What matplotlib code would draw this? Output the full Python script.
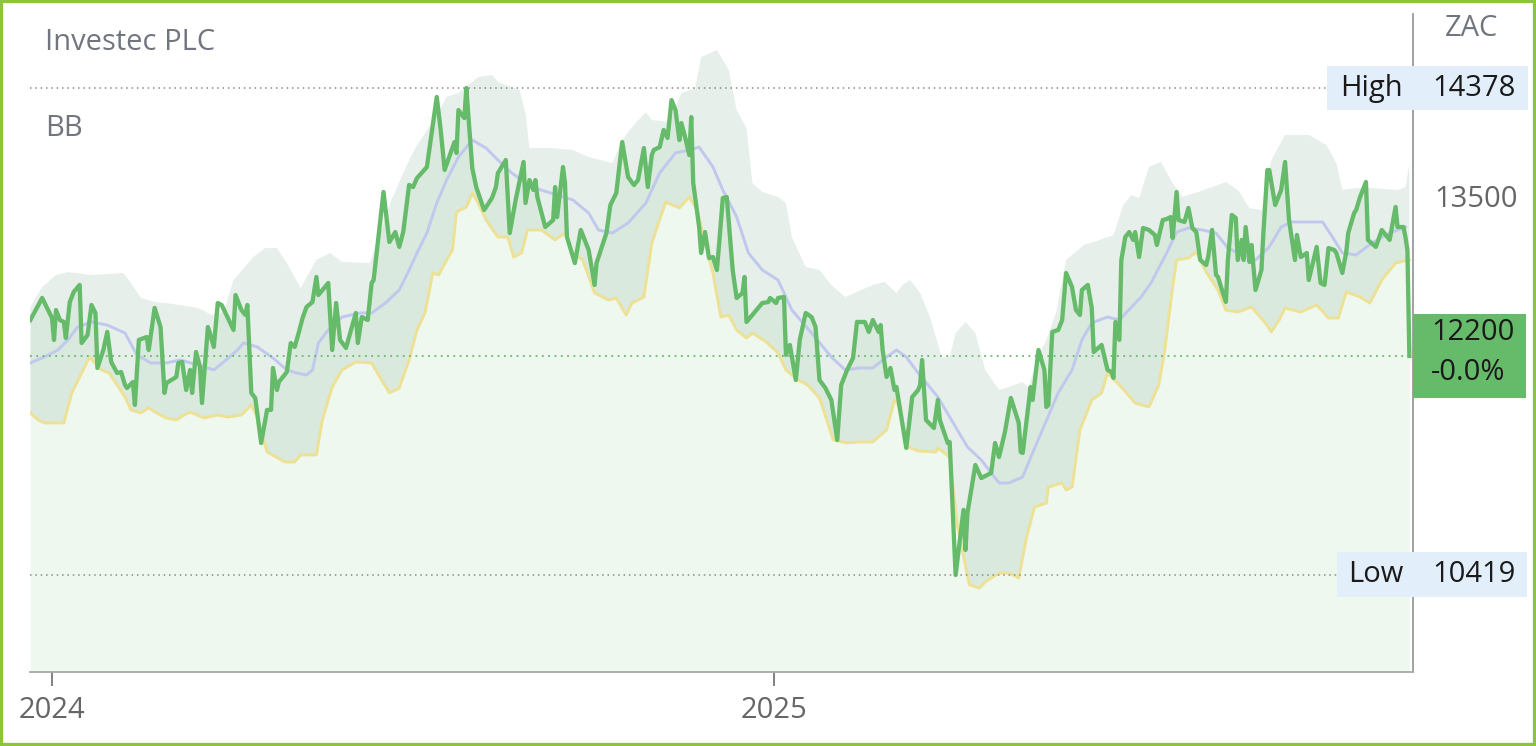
import numpy as np
import pandas as pd
import matplotlib
matplotlib.use("Agg")
from matplotlib import pyplot as plt
from matplotlib.patches import Rectangle
import matplotlib.transforms as mtransforms

plt.rcParams['font.family'] = ['Open Sans', 'DejaVu Sans']

# price (ZAC)
price_dates = [
    '2023-12-21', '2023-12-27', '2023-12-30', '2024-01-01', '2024-01-02', '2024-01-03', '2024-01-05', '2024-01-07',
    '2024-01-08', '2024-01-10', '2024-01-12', '2024-01-15', '2024-01-16', '2024-01-19', '2024-01-21', '2024-01-23',
    '2024-01-24', '2024-01-27', '2024-01-29', '2024-01-31', '2024-02-03', '2024-02-05', '2024-02-07', '2024-02-08',
    '2024-02-11', '2024-02-12', '2024-02-14', '2024-02-18', '2024-02-19', '2024-02-22', '2024-02-25', '2024-02-27',
    '2024-02-28', '2024-03-04', '2024-03-05', '2024-03-07', '2024-03-09', '2024-03-11', '2024-03-12', '2024-03-14',
    '2024-03-16', '2024-03-17', '2024-03-20', '2024-03-21', '2024-03-23', '2024-03-25', '2024-03-27', '2024-04-02',
    '2024-04-03', '2024-04-06', '2024-04-08', '2024-04-09', '2024-04-11', '2024-04-13', '2024-04-16', '2024-04-19',
    '2024-04-21', '2024-04-22', '2024-04-24', '2024-04-25', '2024-04-29', '2024-05-01', '2024-05-03', '2024-05-05',
    '2024-05-07', '2024-05-09', '2024-05-12', '2024-05-14', '2024-05-15', '2024-05-20', '2024-05-22', '2024-05-24',
    '2024-05-26', '2024-05-29', '2024-06-03', '2024-06-04', '2024-06-06', '2024-06-09', '2024-06-11', '2024-06-12',
    '2024-06-17', '2024-06-20', '2024-06-23', '2024-06-25', '2024-06-27', '2024-06-30', '2024-07-02', '2024-07-04',
    '2024-07-09', '2024-07-14', '2024-07-16', '2024-07-18', '2024-07-21', '2024-07-23', '2024-07-24', '2024-07-25',
    '2024-07-28', '2024-07-29', '2024-08-01', '2024-08-03', '2024-08-07', '2024-08-11', '2024-08-13', '2024-08-14',
    '2024-08-18', '2024-08-20', '2024-08-23', '2024-08-27', '2024-08-28', '2024-08-30', '2024-09-01', '2024-09-02',
    '2024-09-03', '2024-09-07', '2024-09-11', '2024-09-12', '2024-09-13', '2024-09-16', '2024-09-17', '2024-09-18',
    '2024-09-22', '2024-09-25', '2024-09-29', '2024-10-02', '2024-10-03', '2024-10-08', '2024-10-10', '2024-10-13',
    '2024-10-16', '2024-10-19', '2024-10-22', '2024-10-24', '2024-10-27', '2024-10-29', '2024-10-31', '2024-11-01',
    '2024-11-04', '2024-11-06', '2024-11-08', '2024-11-10', '2024-11-12', '2024-11-14', '2024-11-15', '2024-11-17',
    '2024-11-19', '2024-11-20', '2024-11-21', '2024-11-24', '2024-11-25', '2024-11-27', '2024-11-29', '2024-12-01',
    '2024-12-03', '2024-12-04', '2024-12-06', '2024-12-08', '2024-12-11', '2024-12-13', '2024-12-16', '2024-12-17',
    '2024-12-18', '2024-12-23', '2024-12-26', '2024-12-29', '2024-12-30', '2025-01-02', '2025-01-03', '2025-01-06',
    '2025-01-07', '2025-01-09', '2025-01-12', '2025-01-14', '2025-01-17', '2025-01-20', '2025-01-22', '2025-01-24',
    '2025-01-27', '2025-01-30', '2025-02-02', '2025-02-04', '2025-02-07', '2025-02-10', '2025-02-12', '2025-02-16',
    '2025-02-18', '2025-02-20', '2025-02-23', '2025-02-24', '2025-02-25', '2025-02-27', '2025-03-01', '2025-03-03',
    '2025-03-04', '2025-03-09', '2025-03-12', '2025-03-15', '2025-03-16', '2025-03-17', '2025-03-19', '2025-03-23',
    '2025-03-25', '2025-03-26', '2025-03-30', '2025-03-31', '2025-04-03', '2025-04-07', '2025-04-08', '2025-04-09',
    '2025-04-13', '2025-04-16', '2025-04-21', '2025-04-23', '2025-04-25', '2025-04-28', '2025-05-01', '2025-05-05',
    '2025-05-06', '2025-05-07', '2025-05-11', '2025-05-12', '2025-05-15', '2025-05-18', '2025-05-19', '2025-05-20',
    '2025-05-22', '2025-05-25', '2025-05-27', '2025-05-29', '2025-06-01', '2025-06-03', '2025-06-05', '2025-06-06',
    '2025-06-09', '2025-06-11', '2025-06-12', '2025-06-16', '2025-06-19', '2025-06-21', '2025-06-22', '2025-06-23',
    '2025-06-25', '2025-06-26', '2025-06-28', '2025-06-30', '2025-07-02', '2025-07-03', '2025-07-05', '2025-07-07',
    '2025-07-10', '2025-07-13', '2025-07-14', '2025-07-17', '2025-07-19', '2025-07-21', '2025-07-22', '2025-07-24',
    '2025-07-25', '2025-07-28', '2025-07-30', '2025-08-01', '2025-08-03', '2025-08-05', '2025-08-08', '2025-08-09',
    '2025-08-11', '2025-08-13', '2025-08-14', '2025-08-16', '2025-08-18', '2025-08-19', '2025-08-21', '2025-08-23',
    '2025-08-24', '2025-08-26', '2025-08-27', '2025-08-28', '2025-08-30', '2025-08-31', '2025-09-02', '2025-09-05',
    '2025-09-06', '2025-09-08', '2025-09-09', '2025-09-10', '2025-09-12', '2025-09-15', '2025-09-17', '2025-09-19',
    '2025-09-22', '2025-09-23', '2025-09-25', '2025-09-28', '2025-09-29', '2025-10-03', '2025-10-05', '2025-10-07',
    '2025-10-09', '2025-10-12', '2025-10-13', '2025-10-16', '2025-10-18', '2025-10-19', '2025-10-22', '2025-10-23',
    '2025-10-25', '2025-10-28', '2025-10-29', '2025-11-02', '2025-11-05', '2025-11-07', '2025-11-09', '2025-11-12',
    '2025-11-13', '2025-11-16', '2025-11-17', '2025-11-18', '2025-11-19',
]
price = [
    12492, 12671, 12573, 12508, 12330, 12573, 12492, 12476,
    12346, 12638, 12720, 12777, 12305, 12370, 12614, 12549,
    12102, 12248, 12395, 12151, 12061, 12069, 11964, 11939,
    11988, 11801, 12330, 12354, 12248, 12590, 12435, 11899,
    11980, 12029, 12142, 12151, 11923, 12086, 11899, 12232,
    12110, 11817, 12435, 12386, 12273, 12630, 12614, 12411,
    12695, 12573, 12533, 12614, 11899, 11858, 11492, 11761,
    11761, 12102, 11923, 11988, 12069, 12305, 12273, 12386,
    12508, 12598, 12638, 12842, 12695, 12793, 12248, 12630,
    12330, 12265, 12549, 12305, 12516, 12492, 12793, 12817,
    13533, 13126, 13207, 13086, 13207, 13590, 13573, 13646,
    13736, 14305, 14037, 13712, 13850, 13939, 13850, 14199,
    14134, 14378, 13728, 13573, 13386, 13484, 13573, 13687,
    13793, 13199, 13468, 13777, 13443, 13630, 13549, 13630,
    13492, 13248, 13305, 13573, 13329, 13736, 13606, 13167,
    12955, 13224, 13061, 12777, 12955, 13199, 13427, 13525,
    13939, 13654, 13589, 13630, 13890, 13573, 13833, 13874,
    13898, 14037, 13972, 14280, 14199, 13955, 14093, 13972,
    13833, 14142, 13606, 13248, 13037, 13207, 12996, 13004,
    12899, 13086, 13484, 13492, 12899, 12671, 12712, 12842,
    12476, 12573, 12630, 12638, 12671, 12630, 12671, 12679,
    12208, 12289, 12004, 12330, 12549, 12516, 12435, 12004,
    11939, 11842, 11516, 11964, 12086, 12183, 12476, 12476,
    12395, 12492, 12395, 12451, 12248, 12029, 12102, 11923,
    11948, 11452, 11866, 11923, 11964, 12167, 11679, 11614,
    11842, 11679, 11492, 11500, 10419, 10948, 10622, 10923,
    11313, 11207, 11248, 11492, 11378, 11582, 11858, 11655,
    11419, 11411, 11947, 11842, 12248, 12086, 11785, 11801,
    12395, 12411, 12492, 12874, 12760, 12573, 12533, 12736,
    12777, 12590, 12232, 12289, 12086, 12069, 12021, 12476,
    12330, 12980, 13167, 13207, 13143, 13207, 13004, 13240,
    13224, 13183, 13102, 13305, 13313, 13329, 13159, 13533,
    13305, 13289, 13403, 13240, 13207, 12980, 12939, 13004,
    13224, 12858, 12842, 12736, 12639, 12980, 13346, 13321,
    12980, 13143, 12980, 13248, 12964, 13102, 12736, 12899,
    13199, 13711, 13711, 13614, 13427, 13549, 13777, 13305,
    12980, 13183, 13004, 13037, 12817, 13086, 12793, 12777,
    13077, 13061, 13037, 12874, 13045, 13199, 13362, 13386,
    13492, 13614, 13143, 13086, 13224, 13183, 13143, 13411,
    13248, 13248, 13167, 13061, 12200,
]

# Bollinger bands
upper_dates = [
    '2023-12-21', '2023-12-27', '2024-01-03', '2024-01-09', '2024-01-21', '2024-02-06', '2024-02-10', '2024-02-15',
    '2024-02-22', '2024-02-28', '2024-03-15', '2024-03-22', '2024-03-28', '2024-04-02', '2024-04-12', '2024-04-18',
    '2024-04-24', '2024-04-29', '2024-05-06', '2024-05-14', '2024-05-21', '2024-05-27', '2024-06-10', '2024-06-16',
    '2024-06-21', '2024-06-30', '2024-07-04', '2024-07-12', '2024-07-19', '2024-07-25', '2024-07-30', '2024-08-04',
    '2024-08-11', '2024-08-14', '2024-08-25', '2024-08-28', '2024-08-30', '2024-09-10', '2024-09-21', '2024-09-29',
    '2024-10-11', '2024-10-16', '2024-10-21', '2024-10-28', '2024-10-31', '2024-11-09', '2024-11-15', '2024-11-22',
    '2024-11-25', '2024-12-03', '2024-12-09', '2024-12-13', '2024-12-18', '2024-12-21', '2024-12-26', '2025-01-03',
    '2025-01-07', '2025-01-10', '2025-01-17', '2025-01-24', '2025-01-30', '2025-02-06', '2025-02-12', '2025-02-20',
    '2025-02-26', '2025-03-04', '2025-03-07', '2025-03-11', '2025-03-16', '2025-03-21', '2025-03-27', '2025-03-31',
    '2025-04-03', '2025-04-08', '2025-04-13', '2025-04-18', '2025-04-25', '2025-04-30', '2025-05-07', '2025-05-10',
    '2025-05-14', '2025-05-19', '2025-05-24', '2025-05-29', '2025-06-07', '2025-06-15', '2025-06-22', '2025-06-27',
    '2025-07-01', '2025-07-05', '2025-07-10', '2025-07-16', '2025-07-22', '2025-07-27', '2025-08-04', '2025-08-11',
    '2025-08-18', '2025-08-24', '2025-08-30', '2025-09-05', '2025-09-10', '2025-09-17', '2025-09-29', '2025-10-08',
    '2025-10-13', '2025-10-16', '2025-10-23', '2025-10-31', '2025-11-13', '2025-11-17', '2025-11-19',
]
upper = [
    12598, 12760, 12858, 12882, 12858, 12874, 12793, 12671,
    12638, 12630, 12590, 12533, 12557, 12817, 13004, 13077,
    13077, 12955, 12752, 12980, 13037, 12964, 12955, 13224,
    13468, 13793, 13915, 14102, 14305, 14337, 14402, 14467,
    14484, 14427, 14362, 14175, 13890, 13890, 13874, 13817,
    13768, 13955, 14061, 14183, 14118, 14102, 14337, 14378,
    14630, 14687, 14524, 14199, 14053, 13606, 13533, 13492,
    13443, 13167, 12923, 12899, 12777, 12679, 12720, 12777,
    12801, 12712, 12777, 12817, 12712, 12516, 12191, 12191,
    12386, 12476, 12386, 12086, 11923, 11948, 11988, 11939,
    12167, 12330, 12557, 12980, 13102, 13143, 13183, 13427,
    13508, 13484, 13736, 13777, 13606, 13492, 13533, 13573,
    13614, 13549, 13403, 13386, 13793, 13996, 13996, 13915,
    13768, 13549, 13565, 13565, 13549, 13570, 13760,
]
middle_dates = [
    '2023-12-21', '2023-12-28', '2024-01-04', '2024-01-09', '2024-01-14', '2024-01-21', '2024-01-29', '2024-02-07',
    '2024-02-13', '2024-02-20', '2024-02-28', '2024-03-06', '2024-03-15', '2024-03-23', '2024-03-28', '2024-04-04',
    '2024-04-07', '2024-04-14', '2024-04-22', '2024-04-29', '2024-05-04', '2024-05-09', '2024-05-12', '2024-05-15',
    '2024-05-20', '2024-05-27', '2024-06-05', '2024-06-11', '2024-06-18', '2024-06-25', '2024-06-30', '2024-07-04',
    '2024-07-09', '2024-07-14', '2024-07-19', '2024-07-25', '2024-08-01', '2024-08-08', '2024-08-14', '2024-08-21',
    '2024-08-31', '2024-09-10', '2024-09-21', '2024-09-29', '2024-10-04', '2024-10-11', '2024-10-19', '2024-10-28',
    '2024-11-04', '2024-11-12', '2024-11-19', '2024-11-24', '2024-12-01', '2024-12-06', '2024-12-13', '2024-12-19',
    '2024-12-26', '2025-01-03', '2025-01-10', '2025-01-20', '2025-01-30', '2025-02-06', '2025-02-13', '2025-02-20',
    '2025-02-27', '2025-03-04', '2025-03-09', '2025-03-15', '2025-03-25', '2025-04-03', '2025-04-09', '2025-04-16',
    '2025-04-25', '2025-04-30', '2025-05-07', '2025-05-12', '2025-05-17', '2025-05-25', '2025-06-01', '2025-06-06',
    '2025-06-11', '2025-06-19', '2025-06-25', '2025-07-06', '2025-07-11', '2025-07-19', '2025-07-24', '2025-07-30',
    '2025-08-06', '2025-08-13', '2025-08-19', '2025-08-24', '2025-09-02', '2025-09-09', '2025-09-15', '2025-09-20',
    '2025-10-06', '2025-10-11', '2025-10-16', '2025-10-23', '2025-10-31', '2025-11-09', '2025-11-17',
]
middle = [
    12143, 12191, 12248, 12330, 12435, 12476, 12451, 12386,
    12208, 12143, 12143, 12167, 12126, 12086, 12151, 12248,
    12305, 12273, 12183, 12086, 12061, 12045, 12086, 12305,
    12411, 12516, 12549, 12549, 12630, 12736, 12898, 13037,
    13199, 13443, 13630, 13817, 13955, 13890, 13793, 13687,
    13573, 13524, 13468, 13362, 13224, 13199, 13281, 13443,
    13687, 13850, 13874, 13898, 13736, 13549, 13330, 13037,
    12899, 12817, 12573, 12386, 12191, 12086, 12102, 12102,
    12191, 12248, 12191, 12061, 11866, 11622, 11460, 11354,
    11167, 11167, 11216, 11411, 11598, 11899, 12086, 12330,
    12468, 12516, 12492, 12679, 12793, 13037, 13207, 13240,
    13224, 13199, 13077, 13037, 12980, 13086, 13248, 13289,
    13289, 13167, 13037, 13021, 13118, 13199, 13248,
]
lower_dates = [
    '2023-12-21', '2023-12-25', '2023-12-28', '2024-01-07', '2024-01-11', '2024-01-15', '2024-01-20', '2024-01-26',
    '2024-01-30', '2024-02-07', '2024-02-10', '2024-02-15', '2024-02-19', '2024-02-23', '2024-02-28', '2024-03-04',
    '2024-03-08', '2024-03-11', '2024-03-18', '2024-03-25', '2024-03-30', '2024-04-06', '2024-04-11', '2024-04-14',
    '2024-04-19', '2024-04-28', '2024-05-03', '2024-05-06', '2024-05-14', '2024-05-17', '2024-05-22', '2024-05-27',
    '2024-06-03', '2024-06-11', '2024-06-16', '2024-06-20', '2024-06-25', '2024-06-30', '2024-07-04', '2024-07-08',
    '2024-07-12', '2024-07-15', '2024-07-19', '2024-07-22', '2024-07-24', '2024-07-29', '2024-08-01', '2024-08-04',
    '2024-08-08', '2024-08-14', '2024-08-19', '2024-08-22', '2024-08-26', '2024-08-29', '2024-09-05', '2024-09-12',
    '2024-09-17', '2024-09-21', '2024-09-26', '2024-10-02', '2024-10-09', '2024-10-13', '2024-10-18', '2024-10-21',
    '2024-10-27', '2024-10-31', '2024-11-07', '2024-11-14', '2024-11-19', '2024-11-23', '2024-11-27', '2024-12-01',
    '2024-12-05', '2024-12-09', '2024-12-13', '2024-12-18', '2024-12-21', '2024-12-28', '2025-01-03', '2025-01-07',
    '2025-01-13', '2025-01-18', '2025-01-24', '2025-01-31', '2025-02-07', '2025-02-13', '2025-02-20', '2025-02-27',
    '2025-03-03', '2025-03-05', '2025-03-10', '2025-03-15', '2025-03-24', '2025-03-25', '2025-03-31', '2025-04-04',
    '2025-04-10', '2025-04-15', '2025-04-18', '2025-04-25', '2025-04-30', '2025-05-05', '2025-05-09', '2025-05-13',
    '2025-05-19', '2025-05-20', '2025-05-27', '2025-05-29', '2025-06-01', '2025-06-05', '2025-06-11', '2025-06-16',
    '2025-06-19', '2025-06-26', '2025-07-03', '2025-07-10', '2025-07-15', '2025-07-18', '2025-07-22', '2025-07-24',
    '2025-07-30', '2025-08-03', '2025-08-08', '2025-08-14', '2025-08-18', '2025-08-24', '2025-08-31', '2025-09-07',
    '2025-09-10', '2025-09-14', '2025-09-17', '2025-09-25', '2025-10-03', '2025-10-09', '2025-10-14', '2025-10-18',
    '2025-10-25', '2025-10-30', '2025-11-05', '2025-11-12', '2025-11-19',
]
lower = [
    11736, 11679, 11655, 11655, 11899, 12029, 12191, 12086,
    12061, 11866, 11761, 11736, 11777, 11736, 11695, 11679,
    11720, 11744, 11695, 11720, 11703, 11720, 11801, 11703,
    11419, 11338, 11338, 11395, 11395, 11679, 11947, 12086,
    12151, 12142, 12004, 11899, 11939, 12167, 12411, 12549,
    12874, 12858, 12980, 13061, 13370, 13411, 13524, 13443,
    13305, 13167, 13167, 13004, 13037, 13224, 13224, 13143,
    13199, 13037, 12980, 12712, 12655, 12671, 12533, 12630,
    12679, 13118, 13451, 13403, 13492, 13386, 13118, 12874,
    12516, 12533, 12411, 12346, 12386, 12313, 12224, 12086,
    12004, 11964, 11858, 11517, 11492, 11500, 11500, 11598,
    11842, 11801, 11460, 11427, 11419, 11452, 11378, 10809,
    10338, 10313, 10362, 10435, 10435, 10395, 10728, 10972,
    11004, 11134, 11167, 11110, 11134, 11598, 11842, 11899,
    12061, 11947, 11817, 11785, 11964, 12248, 12760, 12980,
    12996, 13045, 12882, 12736, 12573, 12557, 12598, 12468,
    12395, 12492, 12590, 12557, 12614, 12508, 12508, 12720,
    12679, 12630, 12817, 12955, 12980,
]

title = 'Investec PLC'
indicator = 'BB'
currency = 'ZAC'
high_value = 14378
low_value = 10419
last_value = 12200
last_change = '-0.0%'
y_tick = 13500
x_ticks = ['2024-01-01', '2025-01-01']
x_labels = ['2024', '2025']

px = pd.to_datetime(price_dates)
ux = pd.to_datetime(upper_dates)
mx = pd.to_datetime(middle_dates)
lx = pd.to_datetime(lower_dates)

fig = plt.figure(figsize=(15.36, 7.46), dpi=100)
ax = fig.add_axes([30 / 1536, 74 / 746, 1383 / 1536, 658 / 746])

y_bottom, y_top = 9630, 14980
ax.set_xlim(pd.Timestamp('2023-12-20 20:00'), pd.Timestamp('2025-11-20 20:00'))
ax.set_ylim(y_bottom, y_top)

# band area
band_x = np.concatenate([ux.values, lx.values[::-1]])
band_y = np.concatenate([upper, lower[::-1]])
ax.fill(band_x, band_y, color='#e7efeb', lw=0, zorder=1)
# area under price
ax.fill_between(px, price, y_bottom - 500, color='#66bb6a', alpha=0.1, lw=0, zorder=2)

ax.plot(mx, middle, color='#c0c8ee', lw=2.1, zorder=3)
ax.plot(lx, lower, color='#ede196', lw=2.1, zorder=3)
ax.plot(px, price, color='#66bb6a', lw=3.1, zorder=4, solid_joinstyle='round')

# reference lines
ax.axhline(high_value, xmin=0, xmax=0.9378, color='#8a8a8a', lw=1.1, ls=(0, (1, 2.5)), zorder=5)
ax.axhline(low_value, xmin=0, xmax=0.9451, color='#8a8a8a', lw=1.1, ls=(0, (1, 2.5)), zorder=5)
ax.axhline(last_value, xmin=0, xmax=1, color='#66bb6a', lw=1.3, ls=(0, (1, 2.5)), zorder=5)

for s in ['top', 'left']:
    ax.spines[s].set_visible(False)
ax.spines['right'].set_color('#9a9a9a')
ax.spines['right'].set_linewidth(1.3)
ax.spines['bottom'].set_color('#a8a8a8')
ax.spines['bottom'].set_linewidth(1.3)

ax.set_xticks(pd.to_datetime(x_ticks))
ax.set_xticklabels(x_labels)
ax.tick_params(axis='x', length=10, width=1.3, color='#777777', pad=7,
               labelsize=21, labelcolor='#666666')
ax.yaxis.tick_right()
ax.set_yticks([y_tick])
ax.set_yticklabels([str(y_tick)])
ax.tick_params(axis='y', length=0, pad=15, labelsize=21, labelcolor='#666666')

trans = mtransforms.blended_transform_factory(ax.transAxes, ax.transData)
upp = (y_top - y_bottom) / 658  # data units per pixel

# high / low boxes
ax.add_patch(Rectangle((0.9378, high_value - 22 * upp), 1.0832 - 0.9378, 44 * upp,
                       transform=trans, color='#e3eefb', lw=0, clip_on=False, zorder=6))
ax.add_patch(Rectangle((0.9451, low_value - 22.5 * upp), 1.0824 - 0.9451, 45 * upp,
                       transform=trans, color='#e3eefb', lw=0, clip_on=False, zorder=6))
ax.add_patch(Rectangle((1.0, last_value - 42 * upp), 1.0817 - 1.0, 84 * upp,
                       transform=trans, color='#66bb6a', lw=0, clip_on=False, zorder=6))

txt = dict(transform=trans, fontsize=21, color='#1a1a1a', va='center', clip_on=False, zorder=7)
ax.text(0.9928, high_value, 'High', ha='right', **txt)
ax.text(1.0137, high_value, str(high_value), ha='left', **txt)
ax.text(0.9928, low_value, 'Low', ha='right', **txt)
ax.text(1.0137, low_value, str(low_value), ha='left', **txt)
ax.text(1.0130, last_value + 23 * upp, str(last_value), ha='left', **txt)
ax.text(1.0130, last_value - 17 * upp, last_change, ha='left', **txt)

fig.text(45 / 1536, 1 - 43 / 746, title, fontsize=21, color='#70757e', va='center', ha='left')
fig.text(45 / 1536, 1 - 129 / 746, indicator, fontsize=21, color='#70757e', va='center', ha='left')
fig.text(1471 / 1536, 1 - 29 / 746, currency, fontsize=21, color='#70757e', va='center', ha='center')

# outer border
fig.patches.append(Rectangle((0, 0), 1, 1, transform=fig.transFigure, fill=False,
                             edgecolor='#8cc43c', lw=4.5))

fig.savefig('out.png', dpi=100)
